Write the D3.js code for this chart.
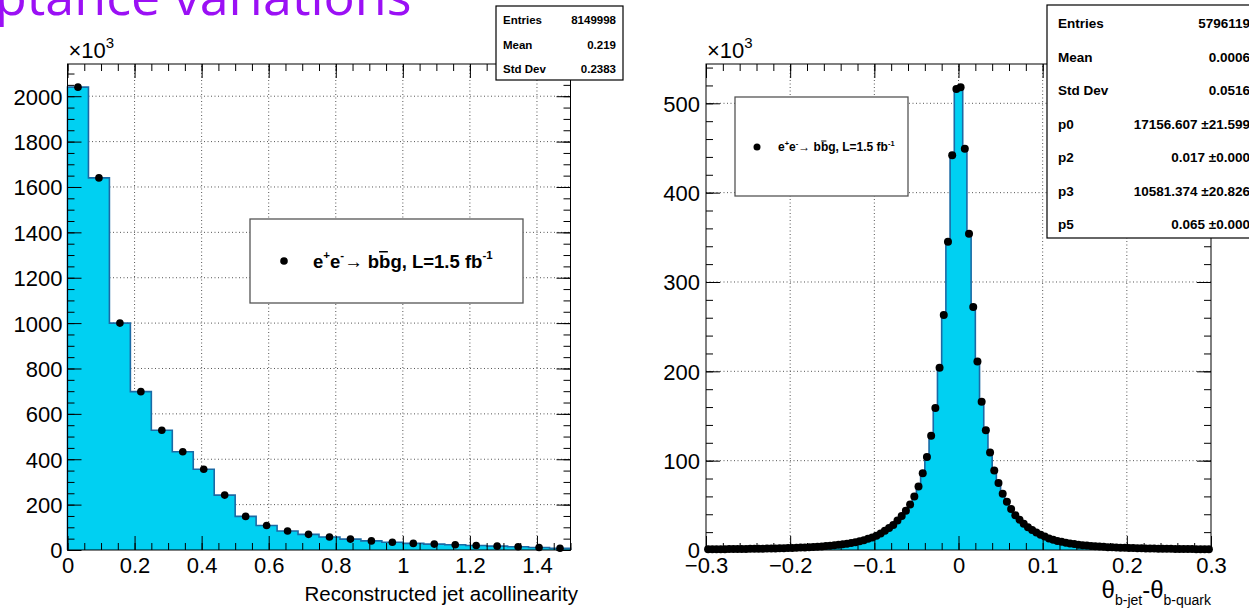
<!DOCTYPE html>
<html lang="en">
<head>
<meta charset="UTF-8">
<title>Jet acollinearity and theta resolution</title>
<script src="https://d3js.org/d3.v7.min.js"></script>
<style>
  body { margin: 0; background: #fff; }
  svg { display: block; font-family: 'Liberation Sans', Arial, sans-serif; }
  .tick text { font-size: 22px; fill: #000; }
  .stat text { font-weight: bold; }
</style>
</head>
<body>
<svg id="chart" width="1249" height="608"></svg>
<script>
// ---- data (counts in units of 10^3) ----
const acolMin = 0, acolBinWidth = 0.0625;
const acolCounts = [2040, 1640, 1000, 698, 528, 433, 356, 242, 148, 108, 84, 69,
                    57, 48, 40, 34, 29, 26, 23, 20, 17, 14, 11, 8];
const acolXTicks = [0, 0.2, 0.4, 0.6, 0.8, 1, 1.2, 1.4];
const acolYTicks = [0, 200, 400, 600, 800, 1000, 1200, 1400, 1600, 1800, 2000];

const thetaMin = -0.3, thetaBinWidth = 0.005;
const thetaCountsNeg = [0.8, 0.8, 0.85, 0.9, 0.95, 1.0, 1.05, 1.1, 1.15, 1.2,
                        1.3, 1.35, 1.4, 1.5, 1.6, 1.7, 1.8, 1.9, 2.0, 2.1,
                        2.3, 2.5, 2.7, 2.9, 3.1, 3.4, 3.7, 4.0, 4.4, 4.8,
                        5.3, 5.8, 6.4, 7.1, 7.9, 8.8, 9.8, 11, 12.5, 14,
                        16, 18.5, 21.5, 24.5, 28, 33, 38, 44, 51, 60,
                        71, 86, 104, 128, 159, 204, 263, 345, 442, 516];
const thetaCountsPos = [518, 449, 354, 272, 211, 166, 134, 109, 89, 75,
                        63, 54, 46, 39, 34, 29.5, 25.5, 22.5, 19.5, 17,
                        15, 13, 11.5, 10.2, 9.1, 8.2, 7.3, 6.6, 6.0, 5.4,
                        4.9, 4.5, 4.1, 3.8, 3.5, 3.2, 3.0, 2.8, 2.6, 2.4,
                        2.2, 2.1, 2.0, 1.9, 1.8, 1.7, 1.6, 1.5, 1.4, 1.35,
                        1.3, 1.2, 1.15, 1.1, 1.05, 1.0, 0.95, 0.9, 0.85, 0.8];
const thetaCounts = thetaCountsNeg.concat(thetaCountsPos);
const thetaXTicks = [-0.3, -0.2, -0.1, 0, 0.1, 0.2, 0.3];
const thetaYTicks = [0, 100, 200, 300, 400, 500];

const leftStats = [["Entries", "8149998"], ["Mean", "0.219"], ["Std Dev", "0.2383"]];
const rightStats = [["Entries", "5796119"], ["Mean", "0.0006"], ["Std Dev", "0.0516"],
                    ["p0", "17156.607 \u00b121.599"], ["p2", "0.017 \u00b10.000"],
                    ["p3", "10581.374 \u00b120.826"], ["p5", "0.065 \u00b10.000"]];

const legendParts = [
  { t: "e" }, { t: "+", sup: true }, { t: "e" }, { t: "-", sup: true },
  { t: "\u2192  b" }, { t: "b", over: true }, { t: "g, L=1.5 fb" }, { t: "-1", sup: true }
];

const fillColor = "#00d0f2";
const lineColor = "#1b6aa5";

const svg = d3.select("#chart");

// slide title remnant
svg.append("text")
  .attr("x", -5).attr("y", 15)
  .style("font-family", "'Open Sans', 'Noto Sans', sans-serif")
  .style("font-size", "52px")
  .attr("fill", "#9b10f5")
  .text("ptance variations");

function richText(g, x, y, parts, fs, anchor) {
  const t = g.append("text").attr("x", x).attr("y", y)
    .attr("text-anchor", anchor || "start")
    .style("font-size", fs + "px");
  let shift = 0;
  const spans = [];
  parts.forEach(p => {
    let target = p.sup ? -0.45 * fs : (p.sub ? 0.3 * fs : 0);
    const s = t.append("tspan")
      .attr("dy", target - shift)
      .style("font-size", (p.sup || p.sub ? (p.size || 0.62 * fs) : (p.size || fs)) + "px")
      .text(p.t);
    shift = target;
    spans.push({ node: s.node(), p });
  });
  spans.forEach(({ node, p }) => {
    if (!p.over) return;
    const a = node.getStartPositionOfChar(0);
    const b = node.getEndPositionOfChar(node.getNumberOfChars() - 1);
    g.append("line")
      .attr("x1", a.x + 1).attr("x2", b.x - 0.5)
      .attr("y1", a.y - fs * 0.86).attr("y2", a.y - fs * 0.86)
      .attr("stroke", "#000").attr("stroke-width", Math.max(1, fs * 0.08));
  });
  return t;
}

function drawPanel(cfg) {
  const x = d3.scaleLinear().domain(cfg.xDomain).range([cfg.left, cfg.right]);
  const y = d3.scaleLinear().domain([0, cfg.yMax]).range([550, 64]);
  const g = svg.append("g");

  // grid
  g.append("g").selectAll("line").data(cfg.xTicks.filter(v => v > cfg.xDomain[0] && v < cfg.xDomain[1]))
    .join("line")
    .attr("x1", d => x(d)).attr("x2", d => x(d)).attr("y1", 550).attr("y2", 64)
    .attr("stroke", "#555").attr("stroke-dasharray", "1,2.5");
  g.append("g").selectAll("line").data(cfg.yTicks.filter(v => v > 0))
    .join("line")
    .attr("y1", d => y(d)).attr("y2", d => y(d)).attr("x1", cfg.left).attr("x2", cfg.right)
    .attr("stroke", "#555").attr("stroke-dasharray", "1,2.5");

  // histogram
  const n = cfg.counts.length;
  const pts = [[cfg.xMin, 0]];
  cfg.counts.forEach((c, i) => {
    pts.push([cfg.xMin + i * cfg.bw, c]);
    pts.push([cfg.xMin + (i + 1) * cfg.bw, c]);
  });
  pts.push([cfg.xMin + n * cfg.bw, 0]);
  const line = d3.line().x(d => x(d[0])).y(d => y(d[1]));
  g.append("path").attr("d", line(pts) + "Z").attr("fill", fillColor).attr("stroke", "none");
  g.append("path").attr("d", line(pts)).attr("fill", "none")
    .attr("stroke", lineColor).attr("stroke-width", 1.6);

  // points
  g.append("g").selectAll("circle").data(cfg.counts).join("circle")
    .attr("cx", (d, i) => x(cfg.xMin + (i + 0.5) * cfg.bw))
    .attr("cy", d => y(d))
    .attr("r", cfg.r).attr("fill", "#000");

  // axes (ticks inside, all four sides)
  const xMinor = d3.range(cfg.xDomain[0], cfg.xDomain[1] + 1e-9, cfg.xMinorStep);
  const yMinor = d3.range(0, cfg.yMax, cfg.yMinorStep);
  const ax = (gen, tr, vals, size, labels) => {
    const a = g.append("g").attr("transform", tr)
      .call(gen.tickValues(vals).tickSize(-size).tickPadding(labels ? cfg.pad : 0)
        .tickFormat(labels ? labels : () => ""));
    a.select(".domain").remove();
    a.selectAll(".tick line").attr("stroke", "#000");
    return a;
  };
  ax(d3.axisBottom(x), "translate(0,550)", xMinor, 7, null);
  ax(d3.axisBottom(x), "translate(0,550)", cfg.xTicks, 14, cfg.fmtX);
  ax(d3.axisTop(x), "translate(0,64)", xMinor, 7, null);
  ax(d3.axisTop(x), "translate(0,64)", cfg.xTicks, 14, null);
  ax(d3.axisLeft(y), `translate(${cfg.left},0)`, yMinor, 7, null);
  const yl = ax(d3.axisLeft(y), `translate(${cfg.left},0)`, cfg.yTicks, 14, d => String(d));
  yl.selectAll(".tick text").attr("dy", "0.36em").attr("x", -cfg.ypad);
  ax(d3.axisRight(y), `translate(${cfg.right},0)`, yMinor, 7, null);
  ax(d3.axisRight(y), `translate(${cfg.right},0)`, cfg.yTicks, 14, null);

  g.append("rect").attr("x", cfg.left).attr("y", 64)
    .attr("width", cfg.right - cfg.left).attr("height", 486)
    .attr("fill", "none").attr("stroke", "#000").attr("stroke-width", 1);

  // x10^3
  richText(g, cfg.left + 1, 58, [{ t: "\u00d710" }, { t: "3", sup: true, size: 15 }], 22);
  return { x, y, g };
}

drawPanel({
  xDomain: [0, 1.5], left: 67.5, right: 570.5, yMax: 2142,
  counts: acolCounts, xMin: acolMin, bw: acolBinWidth, r: 3.8,
  xTicks: acolXTicks, yTicks: acolYTicks, xMinorStep: 0.05, yMinorStep: 50,
  fmtX: d => String(d), pad: 7, ypad: 5
});
drawPanel({
  xDomain: [-0.3, 0.3], left: 706, right: 1211, yMax: 544,
  counts: thetaCounts, xMin: thetaMin, bw: thetaBinWidth, r: 4,
  xTicks: thetaXTicks, yTicks: thetaYTicks, xMinorStep: 0.02, yMinorStep: 20,
  fmtX: d => d3.format("")(d), pad: 7, ypad: 6
});

// axis titles
svg.append("text").attr("x", 578).attr("y", 601).attr("text-anchor", "end")
  .style("font-size", "20.5px").text("Reconstructed jet acollinearity");
richText(svg, 1211, 598, [
  { t: "\u03b8" }, { t: "b-jet", sub: true, size: 14 },
  { t: "-\u03b8" }, { t: "b-quark", sub: true, size: 14 }
], 24, "end");

// legends
function legend(x0, y0, w, h, dx, dy, r, tx, fs) {
  const g = svg.append("g");
  g.append("rect").attr("x", x0).attr("y", y0).attr("width", w).attr("height", h)
    .attr("fill", "#fff").attr("stroke", "#555").attr("stroke-width", 1.3);
  g.append("circle").attr("cx", dx).attr("cy", dy).attr("r", r).attr("fill", "#000");
  const t = richText(g, tx, dy + fs * 0.36, legendParts, fs);
  t.style("font-weight", "bold");
}
legend(250, 219, 273, 84, 284, 261, 3.8, 313, 18.5);
legend(735, 97, 173, 99, 757, 147, 3.5, 778, 12);

// stat boxes
function stats(x0, y0, w, h, rows, rowH, firstY, lx, rx, fs) {
  const g = svg.append("g").attr("class", "stat");
  g.append("rect").attr("x", x0).attr("y", y0).attr("width", w).attr("height", h)
    .attr("fill", "#fff").attr("stroke", "#000").attr("stroke-width", 1.2);
  rows.forEach((r, i) => {
    const yy = firstY + i * rowH;
    g.append("text").attr("x", lx).attr("y", yy).style("font-size", fs + "px").text(r[0]);
    g.append("text").attr("x", rx).attr("y", yy).attr("text-anchor", "end")
      .style("font-size", fs + "px").text(r[1]);
  });
}
stats(496, 6, 127, 74, leftStats, 24.5, 24, 503, 616, 11.5);
stats(1047, 5, 220, 233, rightStats, 33.5, 28, 1058, 1250, 13.5);
</script>
</body>
</html>
